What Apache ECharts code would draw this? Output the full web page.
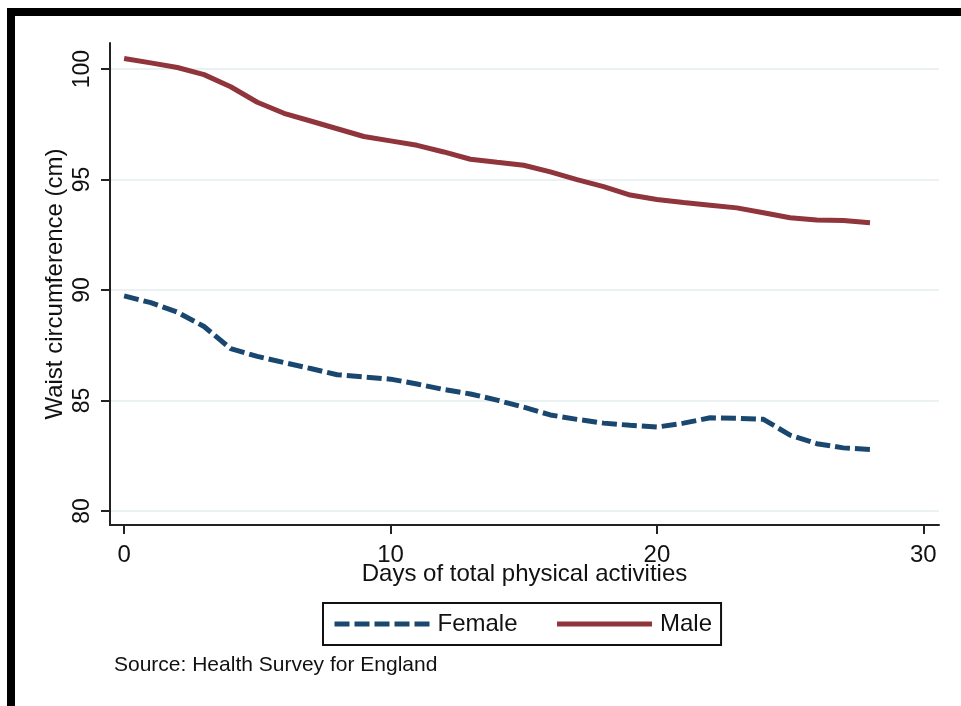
<!DOCTYPE html>
<html>
<head>
<meta charset="utf-8">
<script src="https://cdn.jsdelivr.net/npm/echarts@6/dist/echarts.min.js"></script>
<style>
html,body{margin:0;padding:0;background:#fff;}
#chart{width:961px;height:706px;}
</style>
</head>
<body>
<div id="chart"></div>
<script>
var days = [0,1,2,3,4,5,6,7,8,9,10,11,12,13,14,15,16,17,18,19,20,21,22,23,24,25,26,27,28];
var female = [89.74,89.43,89.0,88.35,87.35,87.0,86.72,86.45,86.17,86.07,85.97,85.75,85.5,85.3,85.02,84.7,84.35,84.15,83.98,83.88,83.8,83.98,84.22,84.2,84.15,83.44,83.05,82.86,82.79];
var male = [100.48,100.28,100.07,99.75,99.2,98.5,98.0,97.65,97.3,96.95,96.75,96.55,96.25,95.92,95.78,95.65,95.35,95.0,94.68,94.3,94.1,93.96,93.84,93.72,93.5,93.27,93.17,93.15,93.05];
var xTicks = [0,10,20,30];
var yTicks = [80,85,90,95,100];
var seriesNames = ['Female','Male'];
var xTitle = 'Days of total physical activities';
var yTitle = 'Waist circumference (cm)';
var sourceText = 'Source: Health Survey for England';

function pairs(xs, ys){ return xs.map(function(x,i){ return [x, ys[i]]; }); }

var FONT = '"Liberation Sans", Arial, sans-serif';
var chart = echarts.init(document.getElementById('chart'));
chart.setOption({
  backgroundColor: '#ffffff',
  animation: false,
  grid: {left:110, right:22, top:43, bottom:181, containLabel:false},
  xAxis: {
    type:'value', min:-0.53, max:30.59,
    name: xTitle, nameLocation:'middle', nameGap:37, nameMoveOverlap:false,
    nameTextStyle:{fontFamily:FONT, fontSize:24, color:'#111'},
    axisLine:{show:true, onZero:false, lineStyle:{color:'#222', width:2}},
    axisTick:{show:true, length:9, lineStyle:{color:'#222', width:2}, customValues:xTicks},
    axisLabel:{fontFamily:FONT, fontSize:24, color:'#111', margin:18, customValues:xTicks},
    splitLine:{show:false}
  },
  yAxis: {
    type:'value', min:79.37, max:101.18,
    name: yTitle, nameLocation:'middle', nameGap:43, nameRotate:90, nameMoveOverlap:false,
    nameTextStyle:{fontFamily:FONT, fontSize:24, color:'#111'},
    axisLine:{show:true, onZero:false, lineStyle:{color:'#222', width:2}},
    axisTick:{show:true, length:9, lineStyle:{color:'#222', width:2}, customValues:yTicks},
    axisLabel:{fontFamily:FONT, fontSize:23, color:'#111', margin:16, rotate:90, customValues:yTicks},
    splitLine:{show:true, lineStyle:{color:'#eaf1f3', width:2}}
  },
  legend: {
    data: seriesNames,
    left:323, top:603,
    orient:'horizontal',
    padding:[9,9,9,9],
    itemGap:37, itemWidth:95, itemHeight:14,
    borderColor:'#111', borderWidth:2,
    itemStyle:{opacity:0},
    lineStyle:{width:5},
    textStyle:{fontFamily:FONT, fontSize:24, color:'#111', padding:[0,0,0,3], lineHeight:24}
  },
  series: [
    {name:seriesNames[0], type:'line', data:pairs(days,female), symbol:'none', smooth:false,
     lineStyle:{color:'#1a476f', width:5, type:[15,5]}, itemStyle:{color:'#1a476f'}},
    {name:seriesNames[1], type:'line', data:pairs(days,male), symbol:'none', smooth:false,
     lineStyle:{color:'#8f353b', width:5}, itemStyle:{color:'#8f353b'}}
  ],
  graphic: [
    {type:'rect', shape:{x:8, y:8, width:953, height:8}, style:{fill:'#000'}, silent:true},
    {type:'rect', shape:{x:7, y:8, width:8, height:698}, style:{fill:'#000'}, silent:true},
    {type:'text', left:114, top:655, style:{text:sourceText, font:'21px ' + FONT, fill:'#111'}}
  ]
});
</script>
</body>
</html>
